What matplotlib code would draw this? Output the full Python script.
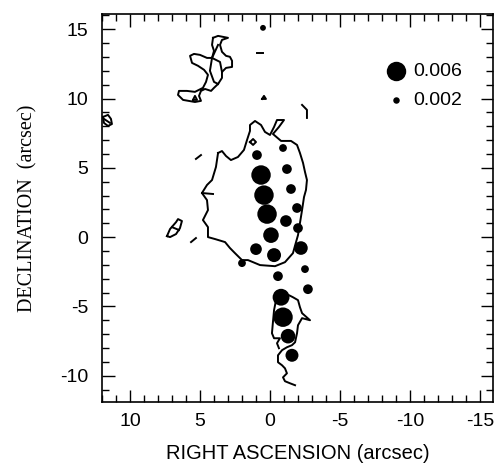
import matplotlib
matplotlib.use("Agg")
import matplotlib.pyplot as plt
import numpy as np
from matplotlib.ticker import MultipleLocator

plt.rcParams["axes.unicode_minus"] = False

# source flux (dots): RA, Dec in arcsec, value
dot_ra = [0.50, 0.93, 0.64, 0.43, 0.21, -0.07, 1.00, -0.29, 2.00, -0.57,
          -0.93, -1.21, -1.50, -1.93, -1.14, -2.00, -2.21, -2.50, -2.71,
          -0.79, -0.93, -1.29, -1.57]
dot_dec = [15.10, 5.92, 4.48, 3.03, 1.66, 0.14, -0.87, -1.30, -1.88, -2.82,
           6.43, 4.91, 3.47, 2.10, 1.16, 0.65, -0.79, -2.31, -3.76,
           -4.34, -5.78, -7.15, -8.53]
dot_val = [0.0018, 0.0030, 0.0060, 0.0060, 0.0060, 0.0048, 0.0036, 0.0043, 0.0024, 0.0030,
           0.0024, 0.0030, 0.0030, 0.0030, 0.0036, 0.0030, 0.0042, 0.0024, 0.0030,
           0.0052, 0.0060, 0.0045, 0.0040]

legend_vals = [0.006, 0.002]

# contour outlines (RA, Dec)
main_ra = [3.71, 3.43, 3.14, 2.79, 2.29, 1.86, 1.64, 1.43, 1.43, 1.07, 0.64, 0.36, 0.00,
           -0.29, -0.50, -1.00, -0.64, -0.21, -0.79, -1.50, -1.93, -2.14, -2.36, -2.50,
           -2.64, -2.57, -2.43, -2.29, -2.14, -2.00, -1.86, -1.64, -1.07, -0.36, 0.71,
           1.21, 1.57, 2.00, 2.50, 2.86, 3.21, 3.93, 4.43, 4.43, 4.79, 4.43, 4.50, 4.86,
           4.50, 4.14, 3.86, 3.71]
main_dec = [6.07, 6.21, 5.85, 5.56, 5.78, 6.29, 7.01, 7.66, 8.09, 8.38, 8.09, 7.59, 7.37,
            7.95, 8.45, 8.45, 7.95, 7.44, 6.94, 6.94, 6.65, 6.07, 5.35, 4.70,
            4.12, 3.40, 2.89, 1.95, 1.01, 0.14, -0.36, -1.16, -1.81, -2.10, -2.02,
            -1.81, -1.66, -1.66, -1.16, -0.79, -0.36, -0.14, 0.00, 0.72, 1.23, 1.95, 2.67, 3.18,
            3.76, 4.12, 5.06, 6.07]

tail_ra = [-0.64, -1.21, -1.64, -2.00, -2.14, -2.29, -2.86, -2.29, -2.00, -1.93, -1.79,
           -1.57, -1.21, -0.86, -0.57, -0.57, -0.86, -1.07, -1.21, -0.93, -1.07, -1.43, -1.79]
tail_dec = [-4.05, -4.12, -4.34, -4.55, -5.06, -5.49, -6.00, -5.85, -6.36, -6.94, -7.59,
            -7.80, -7.95, -8.16, -8.53, -9.03, -9.25, -9.47, -9.83, -10.12, -10.40, -10.55, -10.69]
tail_left_ra = [-0.64, -0.43, -0.29, -0.21, -0.14, -0.29, -0.71, -0.50, -0.64]
tail_left_dec = [-4.05, -4.55, -5.27, -6.14, -6.94, -7.30, -7.30, -7.66, -8.02]

nw_ra = [4.07, 3.71, 3.00, 3.43, 3.57, 3.43, 3.14, 2.86, 2.71, 2.71, 3.14, 3.43, 3.43, 3.71,
         4.00, 4.21, 4.64, 4.93, 5.07, 4.93, 5.36, 6.21, 6.57, 6.50, 5.93, 5.36, 4.79, 4.57,
         4.43, 4.71, 5.14, 5.57, 5.71, 5.43, 5.00, 4.50, 4.14, 4.00, 4.14, 4.07]
nw_dec = [14.38, 14.52, 14.38, 14.23, 13.87, 13.37, 13.08, 13.01, 12.72, 12.28, 12.21, 11.92,
          11.49, 11.05, 10.77, 10.55, 10.69, 10.55, 10.19, 9.83, 9.75, 9.90, 10.26, 10.55,
          10.55, 10.48, 10.77, 11.20, 11.71, 12.07, 12.36, 12.57, 13.08, 13.22, 13.15, 12.93,
          12.93, 13.44, 13.87, 14.38]
nw_in1_ra = [3.71, 4.14, 4.29, 4.00, 3.71]
nw_in1_dec = [13.87, 12.93, 12.00, 11.20, 11.05]
nw_in2_ra = [4.14, 3.57, 3.43]
nw_in2_dec = [12.93, 12.64, 11.92]
nw_tri_ra = [5.50, 5.36, 5.21, 5.50]
nw_tri_dec = [9.90, 10.19, 9.90, 9.90]

edge_ra = [11.93, 11.57, 11.36, 11.29, 11.57, 11.86, 11.93]
edge_dec = [8.67, 8.82, 8.53, 8.16, 8.02, 8.24, 8.67]

blob_ra = [7.36, 7.14, 6.71, 6.57, 6.29, 6.43, 6.71, 7.14, 7.36]
blob_dec = [0.07, 0.58, 1.08, 1.30, 1.16, 0.65, 0.22, 0.00, 0.07]

diam_ra = [1.43, 1.21, 1.00, 1.21, 1.43]
diam_dec = [6.86, 7.08, 6.86, 6.65, 6.86]

# small fragments
frags = [
    ([5.29, 4.93], [5.64, 5.92]),
    ([5.64, 5.29], [-0.36, -0.07]),
    ([0.93, 0.50], [13.29, 13.29]),
    ([0.57, 0.43, 0.29, 0.57], [9.97, 10.19, 9.97, 9.97]),
    ([-2.29, -2.64, -2.64], [9.54, 9.18, 8.60]),
    ([4.86, 4.07], [3.18, 3.11]),
    ([7.00, 6.50], [0.72, 0.51]),
    ([11.86, 11.43], [8.53, 8.24]),
]

fig = plt.figure(figsize=(4.99, 4.65), dpi=100)
ax = fig.add_axes([0.2044, 0.1355, 0.7836, 0.8344])

lw = 1.4
for xs, ys in [(main_ra, main_dec), (tail_ra, tail_dec), (tail_left_ra, tail_left_dec),
               (nw_ra, nw_dec), (nw_in1_ra, nw_in1_dec), (nw_in2_ra, nw_in2_dec),
               (nw_tri_ra, nw_tri_dec), (edge_ra, edge_dec), (blob_ra, blob_dec),
               (diam_ra, diam_dec)] + frags:
    ax.plot(xs, ys, color="black", lw=lw, solid_joinstyle="round")

def msize(v):
    return (14.0 * np.asarray(v) / 0.006) ** 2

ax.scatter(dot_ra, dot_dec, s=msize(dot_val), color="black", zorder=3, linewidths=0)

handles = [ax.scatter([], [], s=msize(v), color="black", linewidths=0) for v in legend_vals]
ax.legend(handles, ["%.3f" % v for v in legend_vals], loc="upper left",
          bbox_to_anchor=(0.677, 0.90), frameon=False, handletextpad=-0.1,
          labelspacing=0.56, borderpad=0, scatterpoints=1,
          prop={"family": "Liberation Sans", "size": 14})

ax.set_xlim(12.0, -15.93)
ax.set_ylim(-11.9, 16.1)
ax.xaxis.set_major_locator(MultipleLocator(5))
ax.xaxis.set_minor_locator(MultipleLocator(1))
ax.yaxis.set_major_locator(MultipleLocator(5))
ax.yaxis.set_minor_locator(MultipleLocator(1))
ax.tick_params(which="both", direction="in", top=True, right=True, width=1)
ax.tick_params(which="major", length=9)
ax.tick_params(which="minor", length=5)
ax.tick_params(axis="x", pad=8)
ax.tick_params(axis="y", pad=10)
for lab in ax.get_xticklabels() + ax.get_yticklabels():
    lab.set_family("Liberation Sans")
    lab.set_fontsize(14)
for sp in ax.spines.values():
    sp.set_linewidth(1.2)

ax.set_xlabel("RIGHT ASCENSION (arcsec)", family="Liberation Sans", fontsize=14.5, labelpad=10)
ax.set_ylabel("DECLINATION  (arcsec)", family="Liberation Serif", fontsize=14.5, labelpad=16)

fig.savefig("out.png", dpi=100)
